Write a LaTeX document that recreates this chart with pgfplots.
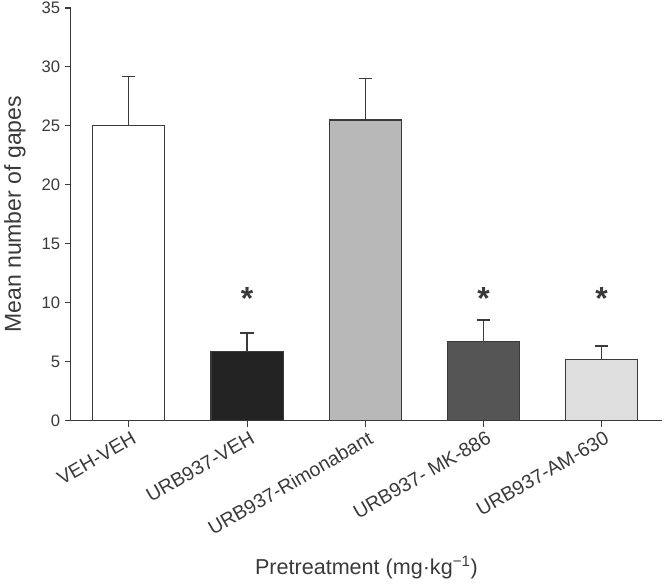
\documentclass[border=0pt]{standalone}
\usepackage{pgfplots}
\pgfplotsset{compat=1.18}
\usepackage{fontspec}
\setmainfont{Liberation Sans}
\definecolor{axc}{HTML}{3A3A3A}
\definecolor{cA}{HTML}{FFFFFF}
\definecolor{cB}{HTML}{232323}
\definecolor{cC}{HTML}{B8B8B8}
\definecolor{cD}{HTML}{555555}
\definecolor{cE}{HTML}{DEDEDE}
\begin{document}
\begin{tikzpicture}
\begin{axis}[
  scale only axis,
  width=444pt, height=310pt,
  xmin=-0.49, xmax=4.51,
  ymin=0, ymax=35,
  ytick={0,5,...,35},
  xtick={0,1,2,3,4},
  xticklabels={VEH-VEH,URB937-VEH,URB937-Rimonabant,URB937- MK-886,URB937-AM-630},
  x tick label style={rotate=30, anchor=north east, font=\fontsize{14.7}{16}\selectfont, text=axc, inner sep=1pt, yshift=-2pt, xshift=1pt},
  y tick label style={font=\fontsize{12.5}{14}\selectfont, text=axc},
  /pgf/number format/assume math mode=true,
  axis x line*=bottom, axis y line*=left,
  axis line style={draw=axc, line width=0.8pt, -},
  tick style={draw=axc, line width=0.8pt},
  tick align=outside,
  major tick length=4.5pt,
  xlabel={Pretreatment (mg·kg\textsuperscript{−1})},
  ylabel={Mean number of gapes},
  xlabel style={font=\fontsize{16.2}{18}\selectfont, text=axc, at={(axis description cs:0.5,-0.3726)}, anchor=base},
  ylabel style={font=\fontsize{17.3}{18}\selectfont, text=axc, at={(axis description cs:-0.0845,0.5)}, anchor=base, inner sep=1pt},
  ybar, bar width=0.61, bar shift=0pt,
  error bars/y dir=plus, error bars/y explicit,
  error bars/error bar style={draw=axc, line width=1pt},
  error bars/error mark options={draw=axc, line width=1pt, rotate=90, mark size=5pt},
  clip=false,
]
\addplot[fill=cA, draw=axc, line width=0.8pt] coordinates {(0,25.0) +- (0,4.2)};
\addplot[fill=cB, draw=axc, line width=0.8pt] coordinates {(1,5.87) +- (0,1.56)};
\addplot[fill=cC, draw=axc, line width=0.8pt] coordinates {(2,25.5) +- (0,3.5)};
\addplot[fill=cD, draw=axc, line width=0.8pt] coordinates {(3,6.72) +- (0,1.81)};
\addplot[fill=cE, draw=axc, line width=0.8pt] coordinates {(4,5.2) +- (0,1.13)};
\addplot[draw=none, mark=none, no markers, ybar=0pt, bar width=0, fill=none,
  nodes near coords={\bfseries *}, nodes near coords style={font=\fontsize{24}{24}\selectfont, text=axc, anchor=center, yshift=-4pt}]
  coordinates {(1,10.85) (3,10.85) (4,10.85)};
\end{axis}
\pgfresetboundingbox
\path ([xshift=-53.25pt,yshift=-123pt]current axis.south west) rectangle ([xshift=2.25pt,yshift=6pt]current axis.north east);
\end{tikzpicture}
\end{document}
